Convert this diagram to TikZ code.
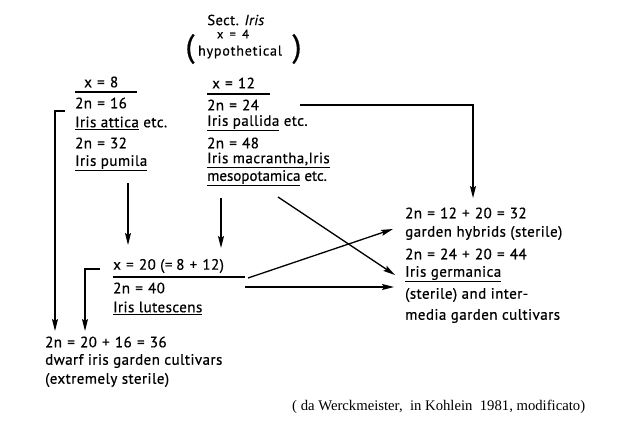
\documentclass[tikz,border=0pt]{standalone}
\usepackage{fontspec}
\setmainfont{PT Sans}[FakeBold=0.6,LetterSpace=3]
\newfontfamily\capfont{Liberation Serif}
\usetikzlibrary{arrows.meta}
\newcommand\ulx[1]{\underline{#1}}
\newcommand\eqx{\hspace{0.35em}=\hspace{0.35em}}
\newcommand\plx{\hspace{0.35em}+\hspace{0.35em}}
\begin{document}
\begin{tikzpicture}[x=1pt,y=-1pt,
  txt/.style={anchor=west,inner sep=0pt,font=\fontsize{15}{17}\selectfont},
  rulel/.style={line width=1.1pt},
  arr/.style={line width=1.3pt,-{Stealth[length=12pt,width=6pt,inset=2pt]}}]
\useasboundingbox (0,0) rectangle (617,423);
% top
\node[inner sep=0pt,font=\fontsize{14.5}{16}\selectfont] (sect) at (236,20) {Sect. \textit{Iris}};
\node[inner sep=0pt,font=\fontsize{12.5}{13}\selectfont] (x4) at (233,34) {x\hspace{0.5em}=\hspace{0.5em}4};
\node[inner sep=0pt,font=\fontsize{14}{16}\selectfont] (hyp) at (240,52) {\addfontfeatures{LetterSpace=6}hypothetical};
\node[inner sep=0pt,font=\fontsize{32}{32}\selectfont] (lp) at (190,49) {(};
\node[inner sep=0pt,font=\fontsize{32}{32}\selectfont] (rp) at (297,49) {)};
% left block
\node[txt] (x8) at (84,82) {x\eqx 8};
\draw[rulel] (75,92) -- (137,92);
\node[txt] (n16) at (75,103) {2n\eqx 16};
\node[txt] (attica) at (75,123) {\ulx{Iris attica} etc.};
\node[txt] (n32) at (75,143) {2n\eqx 32};
\node[txt] (pumila) at (75,163) {\ulx{Iris pumila}};
% middle block
\node[txt] (x12) at (212,83) {x\eqx 12};
\draw[rulel] (207,94) -- (270,94);
\node[txt] (n24) at (207,105) {2n\eqx 24};
\node[txt] (pallida) at (207,123) {\ulx{Iris pallida} etc.};
\node[txt] (n48) at (207,143) {2n\eqx 48};
\node[txt] (macr) at (207,160) {\ulx{Iris macrantha,Iris}};
\node[txt] (meso) at (207,178) {\addfontfeatures{LetterSpace=0}\ulx{mesopotamica} etc.};
% lutescens block
\node[txt] (x20) at (113,266) {x\eqx 20 (=\hspace{0.25em}8\plx 12)};
\draw[rulel] (113,277) -- (245,277);
\node[txt] (n40) at (113,288) {2n\eqx 40};
\node[txt] (lut) at (113,308) {\ulx{Iris lutescens}};
% right block
\node[txt] (r1) at (405,213) {2n\eqx 12\plx 20\eqx 32};
\node[txt] (r2) at (405,233) {garden hybrids (sterile)};
\node[txt] (r3) at (405,254) {2n\eqx 24\plx 20\eqx 44};
\node[txt] (r4) at (405,274) {\ulx{Iris germanica}};
\node[txt] (r5) at (405,295) {(sterile) and inter-};
\node[txt] (r6) at (405,316) {media garden cultivars};
% bottom block
\node[txt] (b1) at (45,342) {2n\eqx 20\plx 16\eqx 36};
\node[txt] (b2) at (45,361) {dwarf iris garden cultivars};
\node[txt] (b3) at (45,380) {(extremely sterile)};
% caption
\node[anchor=west,inner sep=0pt,font=\capfont\fontsize{14.7}{16}\selectfont] (cap) at (292,407) {( da Werckmeister,\ \ in Kohlein\ \ 1981, modificato)};
% connector coordinates
\coordinate (t0) at (300,105);
\coordinate (t1) at (473,105);
\coordinate (t2) at (473,198);
\coordinate (p0) at (128,183);
\coordinate (p1) at (128,245);
\coordinate (m0) at (221,198);
\coordinate (m1) at (221,248);
\coordinate (a0) at (65,111);
\coordinate (a1) at (55,111);
\coordinate (a2) at (55,331);
\coordinate (c0) at (100,269);
\coordinate (c1) at (85,269);
\coordinate (c2) at (85,331);
\coordinate (d0) at (278,197);
\coordinate (d1) at (395,275);
\coordinate (e0) at (248,278);
\coordinate (e1) at (393,229);
\coordinate (h0) at (245,287);
\coordinate (h1) at (394,287);
% connectors
\draw[arr] (t0) -- (t1) -- (t2);
\draw[arr] (p0) -- (p1);
\draw[arr] (m0) -- (m1);
\draw[arr] (a0) -- (a1) -- (a2);
\draw[arr] (c0) -- (c1) -- (c2);
\draw[arr] (d0) -- (d1);
\draw[arr] (e0) -- (e1);
\draw[arr] (h0) -- (h1);
\end{tikzpicture}
\end{document}
